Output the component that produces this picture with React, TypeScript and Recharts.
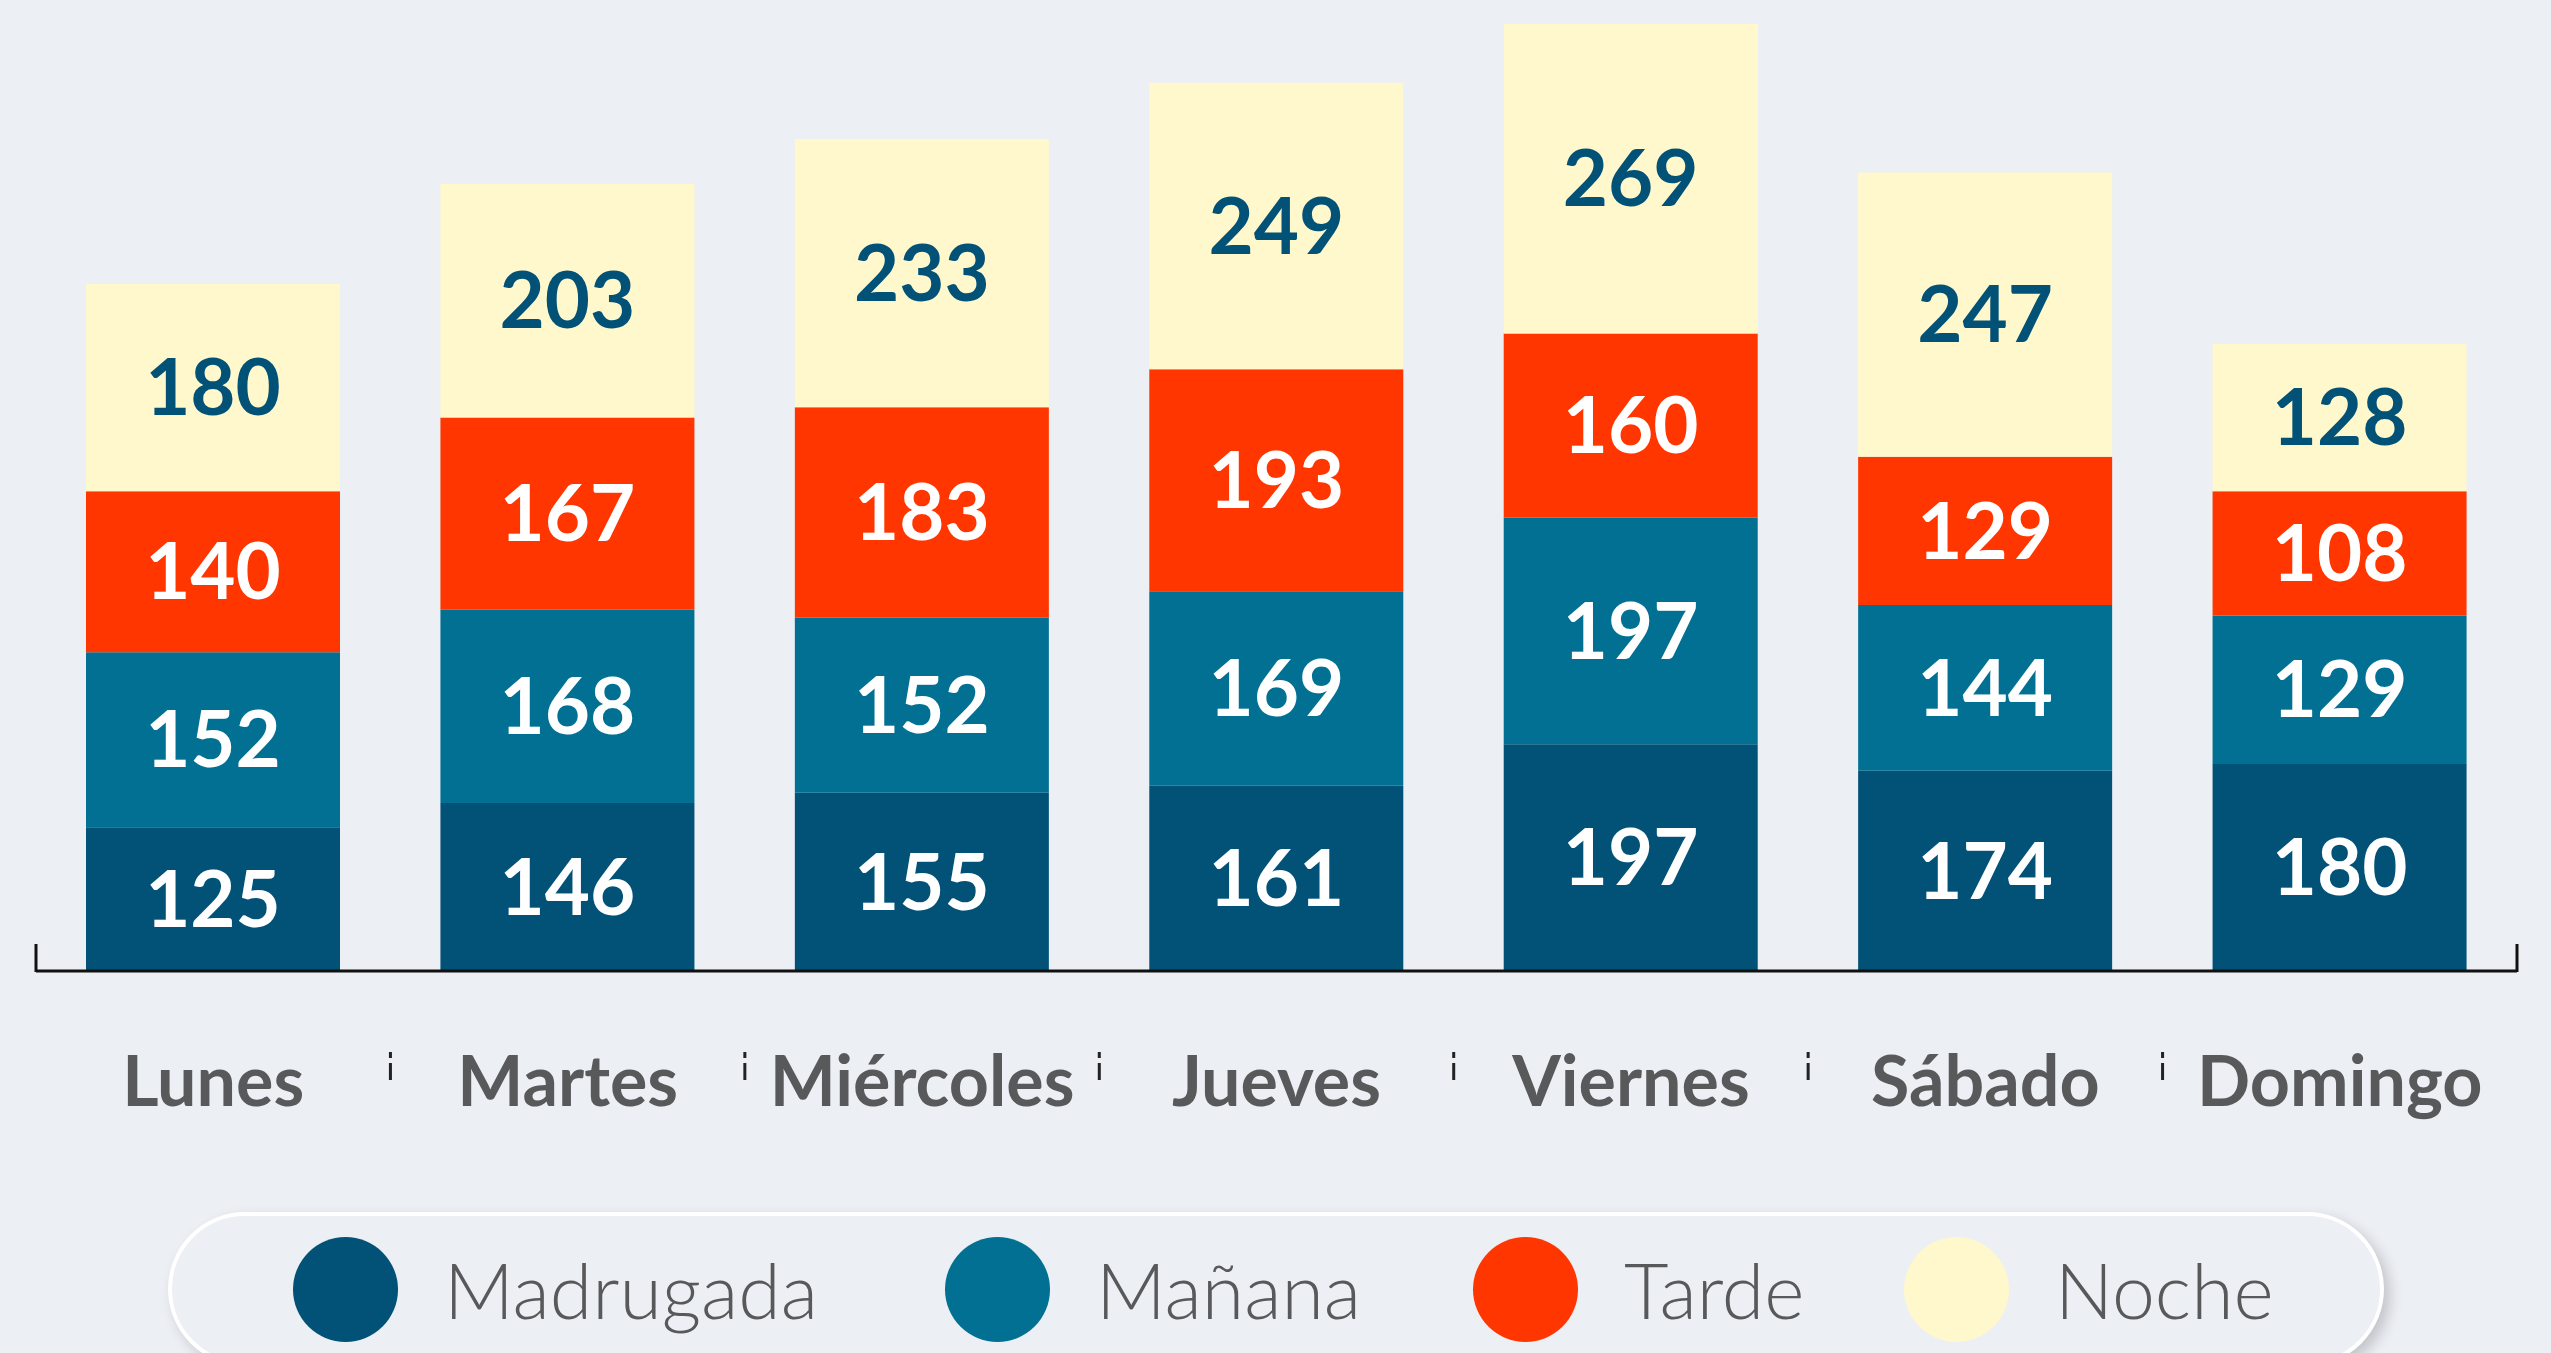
import { BarChart, Bar, XAxis, YAxis, LabelList, Legend } from "recharts";

const days = ["Lunes", "Martes", "Miércoles", "Jueves", "Viernes", "Sábado", "Domingo"];
const madrugada = [125, 146, 155, 161, 197, 174, 180];
const manana = [152, 168, 152, 169, 197, 144, 129];
const tarde = [140, 167, 183, 193, 160, 129, 108];
const noche = [180, 203, 233, 249, 269, 247, 128];

const series = [
  { key: "madrugada", name: "Madrugada", color: "#025177", text: "#ffffff" },
  { key: "manana", name: "Mañana", color: "#017093", text: "#ffffff" },
  { key: "tarde", name: "Tarde", color: "#ff3600", text: "#ffffff" },
  { key: "noche", name: "Noche", color: "#fff8cc", text: "#025177" },
];

const data = days.map((day, i) => ({
  day,
  madrugada: madrugada[i],
  manana: manana[i],
  tarde: tarde[i],
  noche: noche[i],
}));

const W = 2551;
const H = 1353;
const ML = 36;
const MR = 34;
const BAND = (W - ML - MR) / days.length;
const BG = "#eceff4";
// legend item slot widths (circle + text + gap)
const LEGEND_SLOTS = [652, 528, 431, 500];

function DayTick(props: any) {
  const { x, y, payload, index } = props;
  const half = BAND / 2;
  return (
    <g>
      <text
        x={x}
        y={y + 108}
        textAnchor="middle"
        dominantBaseline="central"
        fill="#58595b"
        fontFamily="Lato"
        fontWeight={700}
        fontSize={70}
      >
        {payload.value}
      </text>
      {index > 0 && (
        <line
          x1={x - half}
          x2={x - half}
          y1={y + 81}
          y2={y + 109}
          stroke="#222"
          strokeWidth={3}
          strokeDasharray="6 5 17"
        />
      )}
      {index === 0 && (
        <line x1={x - half} x2={x - half} y1={y + 1} y2={y - 27} stroke="#111" strokeWidth={3} />
      )}
      {index === days.length - 1 && (
        <line x1={x + half} x2={x + half} y1={y + 1} y2={y - 27} stroke="#111" strokeWidth={3} />
      )}
    </g>
  );
}

function LegendPill() {
  return (
    <div style={{ position: "relative", width: 2216, height: 141 }}>
      <div
        style={{
          position: "absolute",
          left: 0,
          top: 0,
          width: 2216,
          height: 154,
          boxSizing: "border-box",
          border: "4px solid #ffffff",
          borderRadius: 77,
          background: BG,
          boxShadow: "6px 6px 14px rgba(0,0,0,0.18)",
          display: "flex",
          alignItems: "center",
          paddingLeft: 121,
        }}
      >
        {series.map((s, i) => (
          <div
            key={s.key}
            style={{ display: "flex", alignItems: "center", width: LEGEND_SLOTS[i], flexShrink: 0 }}
          >
            <div style={{ width: 105, height: 105, borderRadius: "50%", background: s.color, flexShrink: 0 }} />
            <span
              style={{
                marginLeft: 46,
                fontFamily: "Lato",
                fontWeight: 300,
                fontSize: 77,
                color: "#58595b",
                lineHeight: 1,
                whiteSpace: "nowrap",
              }}
            >
              {s.name}
            </span>
          </div>
        ))}
      </div>
    </div>
  );
}

export default function App() {
  return (
    <div
      style={{
        position: "fixed",
        left: 0,
        top: 0,
        width: W,
        height: H,
        background: BG,
        overflow: "hidden",
      }}
    >
      <BarChart width={W} height={H} data={data} margin={{ top: 24, right: MR, left: ML, bottom: 0 }}>
        <XAxis
          dataKey="day"
          height={241}
          tickLine={false}
          tickSize={0}
          tickMargin={0}
          axisLine={{ stroke: "#111", strokeWidth: 3 }}
          tick={<DayTick />}
          interval={0}
        />
        <YAxis hide domain={[0, "dataMax"]} />
        <Legend
          verticalAlign="bottom"
          content={() => <LegendPill />}
          wrapperStyle={{ left: 168, top: 1212, bottom: "auto", width: 2216, height: 141 }}
        />
        {series.map((s) => (
          <Bar
            key={s.key}
            dataKey={s.key}
            name={s.name}
            stackId="a"
            fill={s.color}
            barSize={254}
            isAnimationActive={false}
          >
            <LabelList
              dataKey={s.key}
              position="center"
              fill={s.text}
              fontFamily="Lato"
              fontWeight={700}
              fontSize={78}
            />
          </Bar>
        ))}
      </BarChart>
    </div>
  );
}
